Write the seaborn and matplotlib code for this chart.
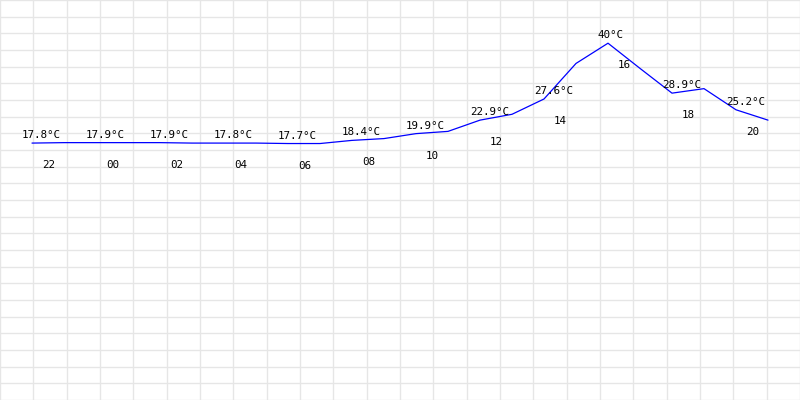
import numpy as np
import pandas as pd
import seaborn as sns
from matplotlib import pyplot as plt

# hourly temperatures, starting at 22h
hours = ['22', '23', '00', '01', '02', '03', '04', '05', '06', '07', '08', '09',
         '10', '11', '12', '13', '14', '15', '16', '17', '18', '19', '20', '21']
temps = [17.8, 17.9, 17.9, 17.9, 17.9, 17.8, 17.8, 17.8, 17.7, 17.7, 18.4, 18.8,
         19.9, 20.4, 22.9, 24.2, 27.6, 35.5, 40.0, 34.4, 28.9, 29.9, 25.2, 22.9]

df = pd.DataFrame({'pos': np.arange(len(hours)), 'hour': hours, 'temp': temps})

sns.set_style('white')
plt.rcParams['font.family'] = ['DejaVu Sans Mono', 'DejaVu Sans']

fig = plt.figure(figsize=(8, 4), dpi=100)
ax = fig.add_axes([0, 0, 1, 1])

xlim = (-1, 24)
ylim = (-39.3, 49.6)
ax.set_xlim(*xlim)
ax.set_ylim(*ylim)

# 24 x 24 background grid
ax.set_xticks(np.linspace(xlim[0], xlim[1], 25))
ax.set_yticks(np.linspace(ylim[0], ylim[1], 25))
ax.grid(True, color='#e6e6e6', linewidth=1.0)
ax.tick_params(length=0, labelbottom=False, labelleft=False)
for s in ax.spines.values():
    s.set_visible(False)

sns.lineplot(data=df, x='pos', y='temp', ax=ax, color='#0000ff', linewidth=0.9)
ax.set_xlabel('')
ax.set_ylabel('')

for _, row in df.iloc[::2].iterrows():
    ax.annotate(f"{row['temp']:g}°C", xy=(row['pos'], row['temp']),
                xytext=(-10, 8), textcoords='offset pixels',
                ha='left', va='center', fontsize=7.8, color='black')
    ax.annotate(row['hour'], xy=(row['pos'], row['temp']),
                xytext=(10, -22), textcoords='offset pixels',
                ha='left', va='center', fontsize=7.8, color='black')

plt.savefig('out.png', dpi=100)
plt.close(fig)
